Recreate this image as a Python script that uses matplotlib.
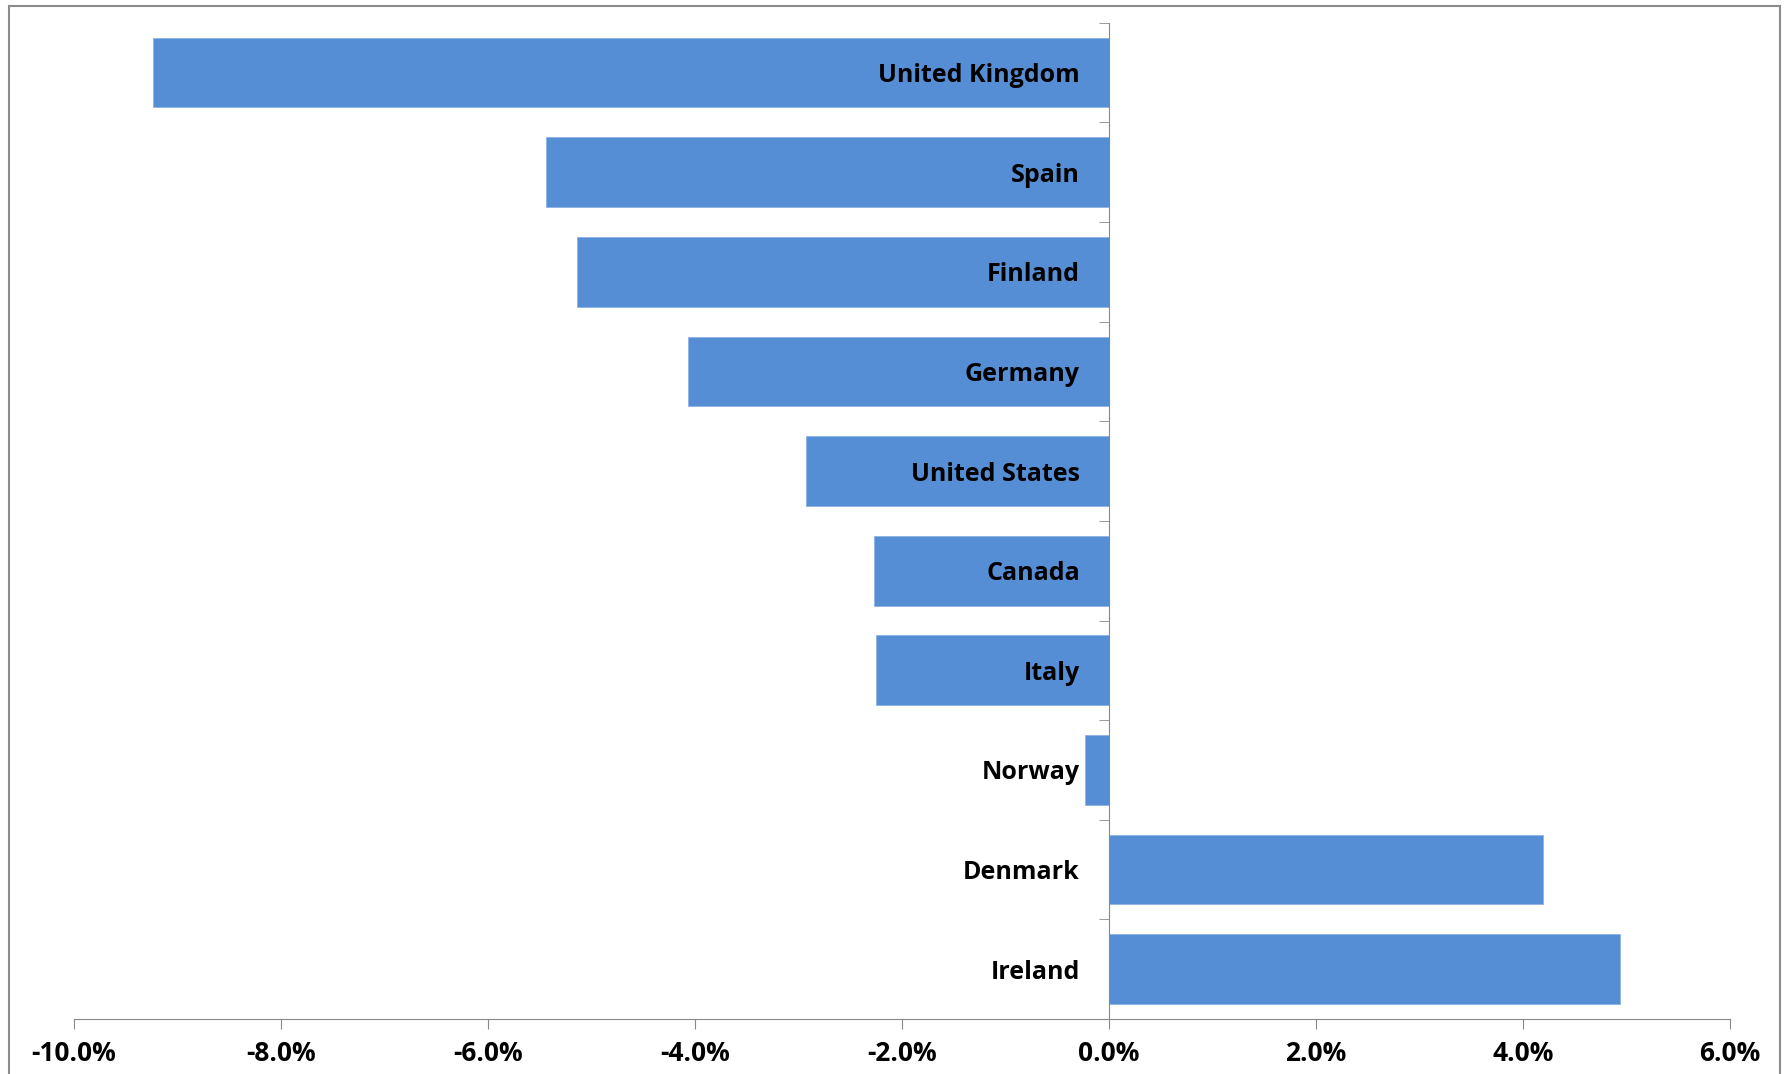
import matplotlib.pyplot as plt
from matplotlib.patches import Rectangle
from matplotlib.ticker import FuncFormatter

countries = ["United Kingdom", "Spain", "Finland", "Germany", "United States",
             "Canada", "Italy", "Norway", "Denmark", "Ireland"]
change = [-9.24, -5.44, -5.14, -4.07, -2.93, -2.27, -2.25, -0.23, 4.19, 4.94]

bar_color = "#558ED5"
axis_gray = "#888888"

plt.rcParams["font.family"] = ["Open Sans", "DejaVu Sans"]

fig = plt.figure(figsize=(17.89, 10.74), dpi=100)
ax = fig.add_axes([0.0414, 0.0512, 0.9256, 0.9276])

pos = list(range(len(countries)))
ax.barh(pos, change, height=0.7, color=bar_color, edgecolor="#8DB3E2", linewidth=0.6)

ax.set_xlim(-10, 6)
ax.set_ylim(len(countries) - 0.5, -0.5)

# y axis sits at zero, ticks between categories
ax.spines["left"].set_position(("data", 0))
ax.spines["left"].set_color(axis_gray)
ax.spines["bottom"].set_color(axis_gray)
ax.spines["top"].set_visible(False)
ax.spines["right"].set_visible(False)

ax.set_yticks(pos)
ax.set_yticklabels(countries, fontsize=18, fontweight="bold")
ax.set_yticks([p - 0.5 for p in pos] + [len(countries) - 0.5], minor=True)
ax.tick_params(axis="y", which="major", length=0, pad=21)
ax.tick_params(axis="y", which="minor", length=7, color=axis_gray, direction="out")

ax.set_xticks(range(-10, 7, 2))
ax.xaxis.set_major_formatter(FuncFormatter(lambda v, p: f"{v:.1f}%"))
ax.tick_params(axis="x", length=7, color=axis_gray, pad=8, labelsize=19)
for lab in ax.get_xticklabels():
    lab.set_fontweight("bold")

# chart area border
fig.add_artist(Rectangle((9 / 1789, -0.05), (1780 - 9) / 1789, 1.05 - 6 / 1074,
                         transform=fig.transFigure, fill=False,
                         edgecolor="#8c8c8c", linewidth=1.5))

plt.savefig("out.png", dpi=100)
